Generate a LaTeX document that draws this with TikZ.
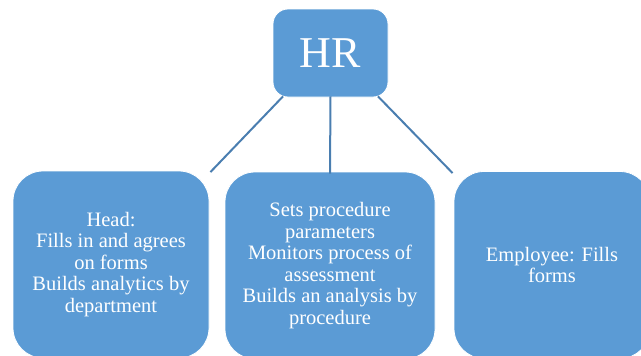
\documentclass[tikz,border=0pt]{standalone}
\usepackage{fontspec}
\setmainfont{Liberation Serif}
\definecolor{boxblue}{HTML}{5B9BD5}
\definecolor{linkblue}{HTML}{4A7EB0}
\begin{document}
\begin{tikzpicture}[x=1pt,y=-1pt,
  unit/.style={rectangle, rounded corners=30pt, fill=boxblue, draw=white,
    line width=0.8pt, text=white, align=center, inner sep=0pt,
    font=\fontsize{20.5}{21.5}\selectfont},
  link/.style={draw=linkblue, line width=2pt}]
  \useasboundingbox (0,0) rectangle (641,356);
  \clip (0,0) rectangle (641,356);

  % top unit
  \node[unit, rounded corners=15pt, minimum width=115pt, minimum height=88pt,
    font=\fontsize{44}{50}\selectfont] (hr) at (330.5,53) {HR};

  % three units below
  \node[unit, minimum width=196pt, minimum height=187pt] (head) at (111,264.5)
    {Head:\\Fills in and agrees\\on forms\\Builds analytics by\\department};
  \node[unit, minimum width=210pt, minimum height=187pt] (proc) at (330,265.5)
    {Sets procedure\\parameters\\Monitors process of\\assessment\\Builds an analysis by\\procedure};
  \node[unit, minimum width=196pt, minimum height=187pt] (emp) at (552,265)
    {Employee: Fills\\forms};

  % links
  \draw[link] ([xshift=-47.5pt,yshift=1pt]hr.south) -- ([xshift=1pt,yshift=-1.5pt]head.north east);
  \draw[link] ([yshift=1pt]hr.south) -- ([yshift=-2pt]proc.north);
  \draw[link] ([xshift=47.5pt,yshift=1pt]hr.south) -- ([xshift=-1pt,yshift=-2pt]emp.north west);
\end{tikzpicture}
\end{document}
